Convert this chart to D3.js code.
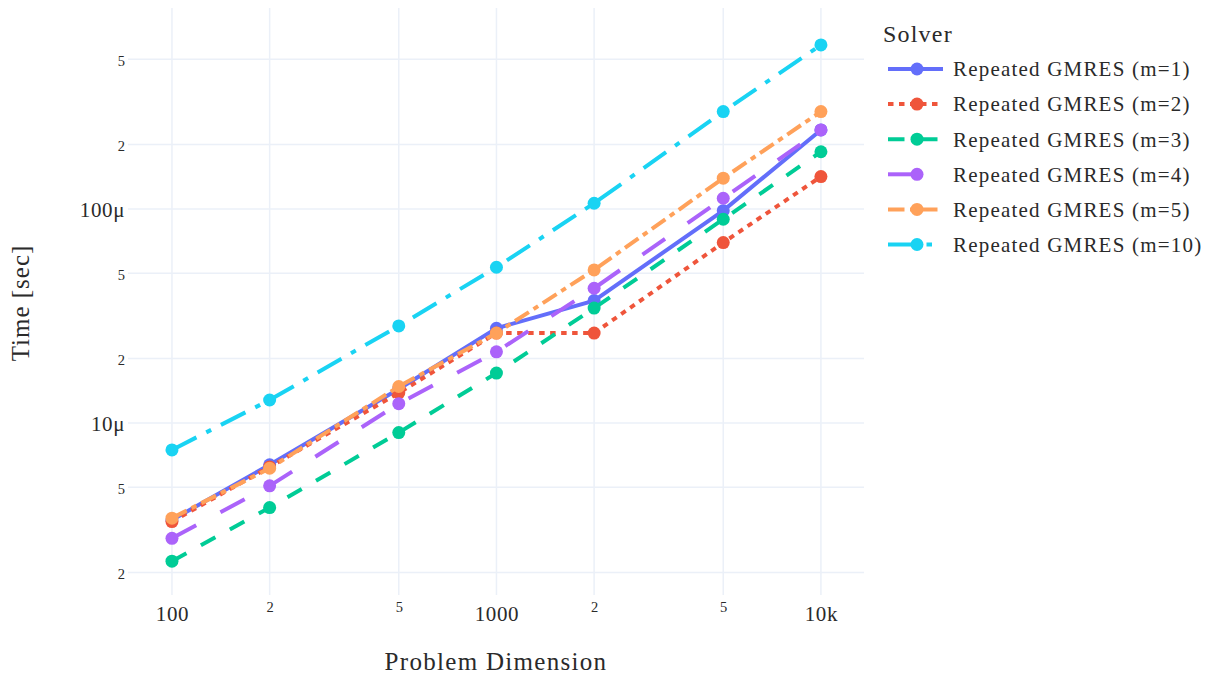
<!DOCTYPE html>
<html>
<head>
<meta charset="utf-8">
<script src="https://cdn.jsdelivr.net/npm/d3@7"></script>
<style>
  html, body { margin: 0; padding: 0; background: #fff; }
  svg { display: block; font-family: "Liberation Serif", "DejaVu Serif", serif; }
</style>
</head>
<body>
<svg id="chart" width="1219" height="677"></svg>
<script>
// ---------- data ----------
const dims = [100, 200, 500, 1000, 2000, 5000, 10000];
const seriesNames = [
  "Repeated GMRES (m=1)", "Repeated GMRES (m=2)", "Repeated GMRES (m=3)",
  "Repeated GMRES (m=4)", "Repeated GMRES (m=5)", "Repeated GMRES (m=10)"
];
// times in microseconds
const m1  = [3.52, 6.37, 14.4, 27.7, 37.3, 98.2, 234];
const m2  = [3.46, 6.23, 13.8, 26.3, 26.3, 69.6, 141.6];
const m3  = [2.26, 4.02, 9.01, 17.1, 34.4, 89.5, 185];
const m4  = [2.89, 5.08, 12.3, 21.5, 42.6, 112.2, 234];
const m5  = [3.59, 6.14, 14.8, 26.3, 51.9, 139.2, 285];
const m10 = [7.48, 12.8, 28.4, 53.4, 106.3, 285, 584];
const seriesValues = [m1, m2, m3, m4, m5, m10];

const xTickValues = [100, 200, 500, 1000, 2000, 5000, 10000];
const xTickLabels = ["100", "2", "5", "1000", "2", "5", "10k"];
const xTickMajor  = [true, false, false, true, false, false, true];
const yTickValues = [2e-6, 5e-6, 1e-5, 2e-5, 5e-5, 1e-4, 2e-4, 5e-4];
const yTickLabels = ["2", "5", "10μ", "2", "5", "100μ", "2", "5"];
const yTickMajor  = [false, false, true, false, false, true, false, false];

const xTitle = "Problem Dimension";
const yTitle = "Time [sec]";
const legendTitle = "Solver";

// ---------- styles ----------
const colors = ["#636efa", "#EF553B", "#00cc96", "#ab63fa", "#FFA15A", "#19d3f3"];
const dashes = ["none", "5.5,5.5", "16.5,16.5", "27.5,27.5", "16.5,5.5,5.5,5.5", "27.5,11,5.5,11"];

// ---------- layout ----------
const plot = { left: 128, right: 864, top: 8, bottom: 595 };
const svg = d3.select("#chart");

const x = d3.scaleLog().domain([73.2, 13575]).range([plot.left, plot.right]);
const y = d3.scaleLog().domain([1.57e-6, 869e-6]).range([plot.bottom, plot.top]);

const gridColor = "#EBF0F8";

// grid
const grid = svg.append("g");
grid.selectAll("line.vx").data(xTickValues).join("line")
  .attr("x1", d => x(d)).attr("x2", d => x(d))
  .attr("y1", plot.top).attr("y2", plot.bottom)
  .attr("stroke", gridColor).attr("stroke-width", 1.5);
grid.selectAll("line.hy").data(yTickValues).join("line")
  .attr("y1", d => y(d)).attr("y2", d => y(d))
  .attr("x1", plot.left).attr("x2", plot.right)
  .attr("stroke", gridColor).attr("stroke-width", 1.5);

// x axis
const xAxis = svg.append("g")
  .attr("transform", `translate(0,${plot.bottom})`)
  .call(d3.axisBottom(x).tickValues(xTickValues)
    .tickFormat((d, i) => xTickLabels[i]).tickSize(0).tickPadding(0));
xAxis.select(".domain").remove();
xAxis.selectAll("text")
  .attr("font-family", "Liberation Serif, serif")
  .attr("fill", "#2a2a2a")
  .attr("font-size", (d, i) => xTickMajor[i] ? 21 : 14.5)
  .attr("letter-spacing", (d, i) => xTickMajor[i] ? 0.6 : 0)
  .attr("y", (d, i) => xTickMajor[i] ? 26 : 17)
  .attr("dy", 0);

// y axis
const yAxis = svg.append("g")
  .attr("transform", `translate(${plot.left},0)`)
  .call(d3.axisLeft(y).tickValues(yTickValues)
    .tickFormat((d, i) => yTickLabels[i]).tickSize(0).tickPadding(0));
yAxis.select(".domain").remove();
yAxis.selectAll("text")
  .attr("font-family", "Liberation Serif, serif")
  .attr("fill", "#2a2a2a")
  .attr("font-size", (d, i) => yTickMajor[i] ? 21 : 14.5)
  .attr("letter-spacing", (d, i) => yTickMajor[i] ? 0.6 : 0)
  .attr("x", -3)
  .attr("dy", (d, i) => yTickMajor[i] ? "0.36em" : "0.4em");

// axis titles
svg.append("text")
  .attr("x", 496).attr("y", 670)
  .attr("text-anchor", "middle").attr("font-size", 25).attr("letter-spacing", 1.3)
  .attr("fill", "#2a2a2a")
  .text(xTitle);
svg.append("text")
  .attr("transform", `translate(29,303) rotate(-90)`)
  .attr("text-anchor", "middle").attr("font-size", 25).attr("letter-spacing", 1.0)
  .attr("fill", "#2a2a2a")
  .text(yTitle);

// lines + markers
const line = d3.line().x(d => x(d[0])).y(d => y(d[1] * 1e-6));
const traces = svg.append("g");
seriesValues.forEach((vals, si) => {
  const pts = dims.map((d, i) => [d, vals[i]]);
  const g = traces.append("g");
  g.append("path").datum(pts)
    .attr("d", line).attr("fill", "none")
    .attr("stroke", colors[si]).attr("stroke-width", 4)
    .attr("stroke-dasharray", dashes[si]);
  g.selectAll("circle").data(pts).join("circle")
    .attr("cx", d => x(d[0])).attr("cy", d => y(d[1] * 1e-6))
    .attr("r", 6.5).attr("fill", colors[si]);
});

// legend
const legend = svg.append("g");
legend.append("text").attr("x", 883).attr("y", 42)
  .attr("font-size", 24).attr("letter-spacing", 1.2).attr("fill", "#2a2a2a").text(legendTitle);
seriesNames.forEach((name, si) => {
  const cy = 69 + si * 35.1;
  const row = legend.append("g");
  row.append("line").attr("x1", 888).attr("x2", 943).attr("y1", cy).attr("y2", cy)
    .attr("stroke", colors[si]).attr("stroke-width", 4)
    .attr("stroke-dasharray", dashes[si]);
  row.append("circle").attr("cx", 917).attr("cy", cy).attr("r", 6.5).attr("fill", colors[si]);
  row.append("text").attr("x", 953).attr("y", cy).attr("dy", "0.35em")
    .attr("font-size", 21).attr("letter-spacing", 1.2).attr("fill", "#2a2a2a").text(name);
});
</script>
</body>
</html>
